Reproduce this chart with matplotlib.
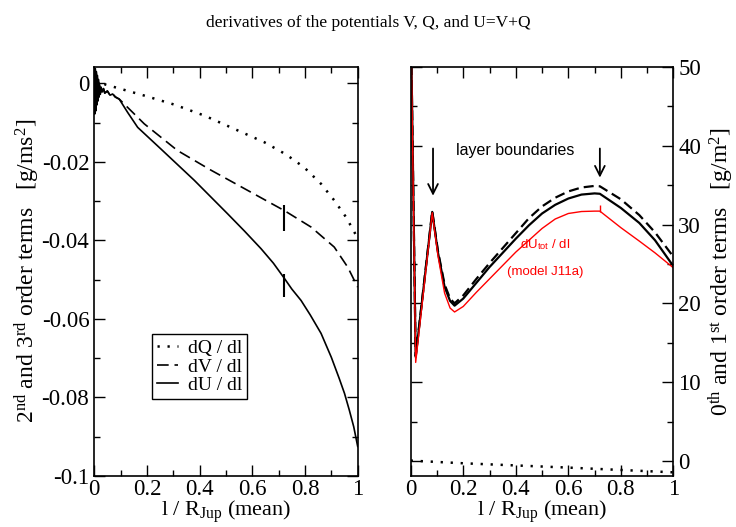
import matplotlib
matplotlib.use("Agg")
import matplotlib.pyplot as plt

plt.rcParams["font.family"] = "Liberation Serif"
plt.rcParams["mathtext.fontset"] = "custom"
plt.rcParams["mathtext.rm"] = "Liberation Serif"
plt.rcParams["mathtext.it"] = "Liberation Serif:italic"
plt.rcParams["mathtext.sf"] = "Liberation Sans"

# left panel: 2nd and 3rd order terms
x_dQ = [0.0, 0.038, 0.19, 0.304, 0.418, 0.532, 0.646, 0.728, 0.797, 0.861, 0.911, 0.956,
        0.994, 1.0]
dQ = [0.0, -0.0002, -0.0031, -0.0054, -0.0082, -0.0116, -0.015, -0.0181, -0.0214, -0.0256,
      -0.0298, -0.0341, -0.0387, -0.0395]

x_dV = [0.0, 0.002, 0.004, 0.006, 0.008, 0.010, 0.012, 0.014, 0.016, 0.018, 0.020, 0.023,
        0.026, 0.030, 0.035, 0.04, 0.05, 0.06, 0.07, 0.08, 0.095, 0.19, 0.316, 0.443, 0.57,
        0.724, 0.823, 0.911, 0.962, 1.0]
dV = [0.0042, -0.007, 0.004, -0.006, 0.003, -0.005, 0.002, -0.004, 0.001, -0.003, 0.0, -0.0025,
      -0.001, -0.002, -0.0012, -0.0024, -0.0019, -0.003, -0.0026, -0.0034, -0.004, -0.0103,
      -0.0171, -0.0221, -0.0268, -0.0325, -0.0366, -0.0417, -0.0468, -0.0519]

x_dU = [0.0, 0.002, 0.004, 0.006, 0.008, 0.010, 0.012, 0.014, 0.016, 0.018, 0.020, 0.023,
        0.026, 0.030, 0.035, 0.04, 0.05, 0.06, 0.07, 0.08, 0.095, 0.127, 0.165, 0.253, 0.38,
        0.506, 0.57, 0.633, 0.68, 0.722, 0.75, 0.785, 0.82, 0.861, 0.9, 0.93, 0.95, 0.968,
        0.985, 1.0]
dU = [0.0042, -0.0078, 0.0035, -0.007, 0.0025, -0.0055, 0.0015, -0.0045, 0.0005, -0.0035,
      -0.0005, -0.0028, -0.001, -0.0022, -0.0013, -0.0025, -0.002, -0.003, -0.0027, -0.0035,
      -0.004, -0.0074, -0.0112, -0.0167, -0.0247, -0.0332, -0.0376, -0.0421, -0.0458,
      -0.0497, -0.0524, -0.0553, -0.059, -0.0637, -0.0698, -0.0752, -0.079, -0.0832,
      -0.0875, -0.0925]

# right panel: 0th and 1st order terms
x_r = [0.0, 0.004, 0.019, 0.082, 0.104, 0.129, 0.15, 0.167, 0.2, 0.25, 0.3, 0.35, 0.4,
       0.45, 0.5, 0.55, 0.6, 0.65, 0.7, 0.72, 0.8, 0.87, 0.93, 1.0]
U0 = [56, 48, 13.2, 31.6, 26.4, 22.1, 20.3, 19.7, 20.6, 22.6, 24.6, 26.4, 28.2, 29.9,
      31.4, 32.5, 33.3, 33.8, 33.95, 33.9, 32.1, 30.2, 28.0, 24.7]
V0 = [56, 48, 13.3, 31.7, 26.6, 22.4, 20.6, 20.0, 21.0, 23.1, 25.1, 27.0, 28.9, 30.8,
      32.3, 33.4, 34.2, 34.7, 34.9, 34.85, 33.2, 31.2, 29.0, 25.9]
U_J11a = [56, 48, 12.5, 31.5, 26.0, 21.3, 19.4, 18.9, 19.6, 21.4, 23.1, 24.8, 26.5, 28.0,
          29.5, 30.7, 31.4, 31.65, 31.7, 31.7, 29.6, 27.9, 26.4, 24.5]
x_q0 = [0.0, 0.2, 0.6, 1.0]
Q0 = [0.04, -0.3, -0.85, -1.45]

# layer boundaries
bound_x = [0.085, 0.72]
bound_tip = [33.3, 35.6]

DOTS = (0, (0.9, 3.1))


def style_axes(ax):
    ax.tick_params(which="both", direction="in", top=True, bottom=True, left=True, right=True,
                   labelsize=16.5, width=1)
    ax.tick_params(which="major", length=8)
    ax.tick_params(which="minor", length=4)
    ax.tick_params(axis="x", pad=2)
    ax.set_xlim(0, 1)
    ax.set_xticks([0, 0.2, 0.4, 0.6, 0.8, 1.0])
    ax.set_xticklabels(["0", "0.2", "0.4", "0.6", "0.8", "1"])
    ax.set_xticks([0.1, 0.3, 0.5, 0.7, 0.9], minor=True)
    ax.set_xlabel(r"l / R$_{\mathrm{Jup}}$ (mean)", fontsize=16, labelpad=-1)
    for s in ax.spines.values():
        s.set_linewidth(1.2)


fig = plt.figure(figsize=(7.36, 5.27), dpi=100)
ax1 = fig.add_axes([0.128, 0.097, 0.358, 0.776])
ax2 = fig.add_axes([0.558, 0.097, 0.357, 0.776])

fig.text(0.5, 0.956, "derivatives of the potentials V, Q, and U=V+Q", ha="center",
         va="center", fontsize=12.5)

# left panel
ax1.plot(x_dQ, dQ, color="black", lw=1.8, linestyle=DOTS, label="dQ / dl")
ax1.plot(x_dV, dV, color="black", lw=1.2, linestyle=(0, (7, 3.5)), label="dV / dl")
ax1.plot(x_dU, dU, color="black", lw=1.2, label="dU / dl")
ax1.vlines(0.72, -0.0375, -0.0311, color="black", lw=1.5)
ax1.vlines(0.72, -0.0544, -0.0485, color="black", lw=1.5)
style_axes(ax1)
ax1.set_ylim(-0.1, 0.0042)
ax1.set_yticks([0, -0.02, -0.04, -0.06, -0.08, -0.1])
ax1.set_yticklabels(["0", "-0.02", "-0.04", "-0.06", "-0.08", "-0.1"])
ax1.set_yticks([-0.01, -0.03, -0.05, -0.07, -0.09], minor=True)
ax1.set_ylabel(r"2$^{\mathrm{nd}}$ and 3$^{\mathrm{rd}}$ order terms   [g/ms$^2$]",
               fontsize=17, labelpad=0)
ax1.legend(loc="lower left", bbox_to_anchor=(0.219, 0.188), borderaxespad=0, fontsize=14,
           handlelength=1.1, handletextpad=0.5, labelspacing=0.05, borderpad=0.25,
           fancybox=False, edgecolor="black", framealpha=1).get_frame().set_linewidth(1)

# right panel
ax2.plot(x_q0, Q0, color="black", lw=1.8, linestyle=DOTS)
ax2.plot(x_r, V0, color="black", lw=1.6, linestyle=(0, (4.5, 2.3)))
ax2.plot(x_r, U0, color="black", lw=1.6)
ax2.plot(x_r, U_J11a, color="red", lw=1.0)
ax2.vlines(0.72, 31.6, 32.5, color="red", lw=1.0)
style_axes(ax2)
ax2.set_ylim(-1.9, 50)
ax2.set_yticks([0, 10, 20, 30, 40, 50])
ax2.set_yticks([5, 15, 25, 35, 45], minor=True)
ax2.tick_params(labelleft=False, labelright=True)
ax2.yaxis.set_label_position("right")
ax2.set_ylabel(r"0$^{\mathrm{th}}$ and 1$^{\mathrm{st}}$ order terms   [g/m$^2$]",
               fontsize=17, labelpad=4)

for bx, tip in zip(bound_x, bound_tip):
    ax2.annotate("", xy=(bx, tip), xytext=(bx, 40),
                 arrowprops=dict(arrowstyle="->,head_length=0.7,head_width=0.35",
                                 color="black", lw=1.3))
ax2.text(0.174, 39.4, "layer boundaries", family="Liberation Sans", fontsize=11.5,
         ha="left", va="center")
ax2.text(0.51, 27.4, r"dU$_{\mathsf{tot}}$ / dl", family="Liberation Sans", fontsize=9.5,
         color="red", ha="center", va="center")
ax2.text(0.51, 24.0, "(model J11a)", family="Liberation Sans", fontsize=9.5,
         color="red", ha="center", va="center")

fig.savefig("out.png", dpi=100)
